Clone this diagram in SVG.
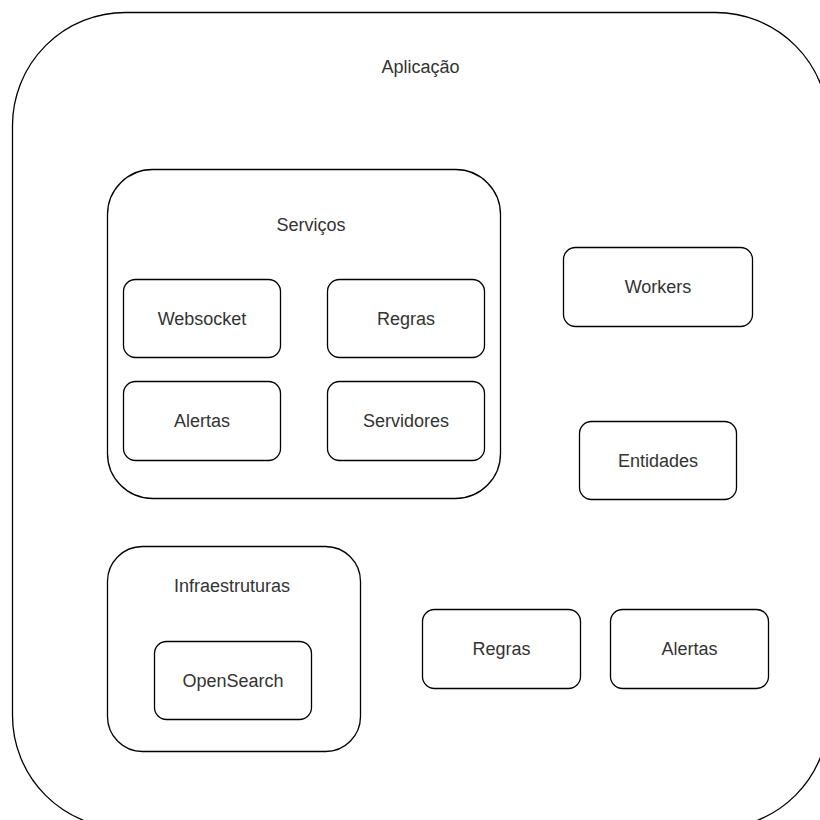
<svg xmlns="http://www.w3.org/2000/svg" width="820" height="820" viewBox="0 0 820 820">
<style>
.box{fill:#fff;stroke:#000;stroke-width:1.3}
.t{font-family:"Liberation Sans",Arial,sans-serif;font-size:18px;fill:#333;text-anchor:middle}
</style>
<rect width="820" height="820" fill="#fff"/>
<g id="aplicacao">
<rect class="box" x="12.5" y="12.5" width="816" height="816" rx="113" ry="113"/>
<text class="t" x="420.5" y="73">Aplicação</text>
</g>
<g id="servicos">
<rect class="box" x="107.5" y="169.5" width="393" height="329" rx="45" ry="45"/>
<text class="t" x="311" y="231">Serviços</text>
</g>
<g id="websocket">
<rect class="box" x="123.5" y="279.5" width="157" height="78" rx="12" ry="12"/>
<text class="t" x="202" y="324.5">Websocket</text>
</g>
<g id="regras-servicos">
<rect class="box" x="327.5" y="279.5" width="157" height="78" rx="12" ry="12"/>
<text class="t" x="406" y="324.5">Regras</text>
</g>
<g id="alertas-servicos">
<rect class="box" x="123.5" y="381.5" width="157" height="79" rx="12" ry="12"/>
<text class="t" x="202" y="427">Alertas</text>
</g>
<g id="servidores">
<rect class="box" x="327.5" y="381.5" width="157" height="79" rx="12" ry="12"/>
<text class="t" x="406" y="427">Servidores</text>
</g>
<g id="workers">
<rect class="box" x="563.5" y="247.5" width="189" height="79" rx="12" ry="12"/>
<text class="t" x="658" y="293">Workers</text>
</g>
<g id="entidades">
<rect class="box" x="579.5" y="421.5" width="157" height="78" rx="12" ry="12"/>
<text class="t" x="658" y="467">Entidades</text>
</g>
<g id="infraestruturas">
<rect class="box" x="107.5" y="546.5" width="253" height="205" rx="35" ry="35"/>
<text class="t" x="232" y="592">Infraestruturas</text>
</g>
<g id="opensearch">
<rect class="box" x="154.5" y="641.5" width="157" height="78" rx="12" ry="12"/>
<text class="t" x="233" y="686.5">OpenSearch</text>
</g>
<g id="regras">
<rect class="box" x="422.5" y="609.5" width="158" height="79" rx="12" ry="12"/>
<text class="t" x="501.5" y="655">Regras</text>
</g>
<g id="alertas">
<rect class="box" x="610.5" y="609.5" width="158" height="79" rx="12" ry="12"/>
<text class="t" x="689.5" y="655">Alertas</text>
</g>
<g id="connectors"></g>
</svg>
